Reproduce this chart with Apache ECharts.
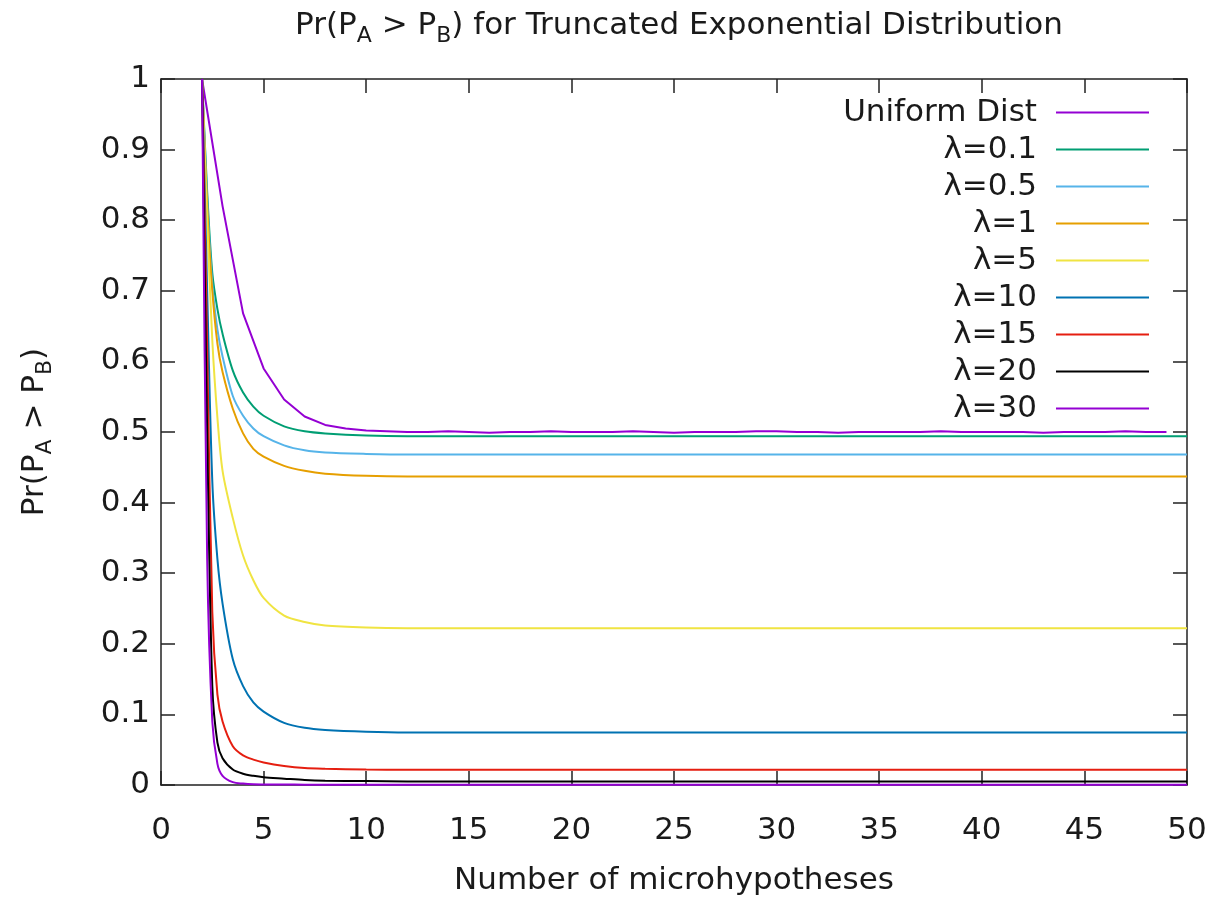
<!DOCTYPE html>
<html>
<head>
<meta charset="utf-8">
<script src="https://cdn.jsdelivr.net/npm/echarts@6/dist/echarts.min.js"></script>
<style>
  html, body { margin: 0; padding: 0; background: #fff; }
  #chart { width: 1220px; height: 901px; }
</style>
</head>
<body>
<div id="chart"></div>
<script>
// x positions (number of microhypotheses)
var nUniform = [2, 3, 4, 5, 6, 7, 8, 9, 10, 11, 12, 13, 14, 15, 16, 17, 18, 19, 20, 21, 22, 23, 24, 25,
    26, 27, 28, 29, 30, 31, 32, 33, 34, 35, 36, 37, 38, 39, 40, 41, 42, 43, 44, 45, 46, 47, 48, 49];
var nLambda = [2, 2.25, 2.5, 2.75, 3, 3.5, 4, 4.5, 5, 6, 7, 8, 10, 12, 15, 20, 30, 40, 50];

// Pr(PA > PB) values
var uniformDist = [1, 0.82, 0.668, 0.59, 0.546, 0.522, 0.51, 0.505, 0.502, 0.501, 0.5, 0.5, 0.501, 0.5, 0.499, 0.5,
    0.5, 0.501, 0.5, 0.5, 0.5, 0.501, 0.5, 0.499, 0.5, 0.5, 0.5, 0.501, 0.501, 0.5, 0.5, 0.499,
    0.5, 0.5, 0.5, 0.5, 0.501, 0.5, 0.5, 0.5, 0.5, 0.499, 0.5, 0.5, 0.5, 0.501, 0.5, 0.5];
var lambda01 = [1, 0.84, 0.725, 0.674, 0.639, 0.587, 0.556, 0.536, 0.523, 0.508, 0.501, 0.498, 0.495, 0.494, 0.494, 0.494, 0.494, 0.494, 0.494];
var lambda05 = [1, 0.83, 0.71, 0.645, 0.607, 0.551, 0.523, 0.505, 0.494, 0.481, 0.474, 0.471, 0.469, 0.468, 0.468, 0.468, 0.468, 0.468, 0.468];
var lambda1 = [1, 0.82, 0.70, 0.625, 0.585, 0.533, 0.498, 0.476, 0.465, 0.452, 0.445, 0.441, 0.438, 0.437, 0.437, 0.437, 0.437, 0.437, 0.437];
var lambda5 = [1, 0.80, 0.63, 0.52, 0.445, 0.378, 0.325, 0.29, 0.265, 0.24, 0.231, 0.226, 0.223, 0.222, 0.222, 0.222, 0.222, 0.222, 0.222];
var lambda10 = [1, 0.70, 0.43, 0.32, 0.257, 0.178, 0.14, 0.117, 0.104, 0.088, 0.081, 0.078, 0.0755, 0.0745, 0.0745, 0.0745, 0.0745, 0.0745, 0.0745];
var lambda15 = [1, 0.62, 0.245, 0.128, 0.09, 0.055, 0.042, 0.036, 0.032, 0.027, 0.024, 0.023, 0.022, 0.0215, 0.0215, 0.0215, 0.0215, 0.0215, 0.0215];
var lambda20 = [1, 0.50, 0.14, 0.06, 0.038, 0.022, 0.016, 0.013, 0.011, 0.009, 0.007, 0.006, 0.0055, 0.005, 0.005, 0.005, 0.005, 0.005, 0.005];
var lambda30 = [1, 0.32, 0.09, 0.03, 0.013, 0.004, 0.002, 0.001, 0.0008, 0.0006, 0.0005, 0.0005, 0.0005, 0.0005, 0.0005, 0.0005, 0.0005, 0.0005, 0.0005];

var seriesNames = ['Uniform Dist', 'λ=0.1', 'λ=0.5', 'λ=1', 'λ=5', 'λ=10', 'λ=15', 'λ=20', 'λ=30'];
var seriesColors = ['#9400d3', '#009e73', '#56b4e9', '#e69f00', '#f0e442', '#0072b2', '#e51e10', '#000000', '#9400d3'];

var fontName = 'DejaVu Sans';
var fontSize = 31;
var textColor = '#1a1a1a';

function pairs(xs, ys) {
    return xs.map(function(x, i) { return [x, ys[i]]; });
}

function renderChart() {
    var dom = document.getElementById('chart');
    var myChart = echarts.init(dom, null, { renderer: 'canvas' });

    var ySets = [uniformDist, lambda01, lambda05, lambda1, lambda5, lambda10, lambda15, lambda20, lambda30];
    var series = ySets.map(function(ys, i) {
        return {
            name: seriesNames[i],
            type: 'line',
            data: i === 0 ? pairs(nUniform, ys) : pairs(nLambda, ys),
            symbol: 'none',
            smooth: i === 0 ? false : 0.3,
            color: seriesColors[i],
            lineStyle: { width: 2, color: seriesColors[i] },
            animation: false,
            z: 2 + i
        };
    });

    var subStyle = { fontSize: 22, lineHeight: 22, verticalAlign: 'bottom', fontFamily: fontName, color: textColor };

    function axisCommon(extra) {
        return Object.assign({
            axisLine: { show: true, onZero: false, lineStyle: { color: '#222', width: 1.5 } },
            axisTick: { show: true, inside: true, length: 14, lineStyle: { color: '#222', width: 1.5 } },
            splitLine: { show: false }
        }, extra);
    }

    var option = {
        backgroundColor: '#ffffff',
        title: {
            text: 'Pr(P{sub|A} > P{sub|B}) for Truncated Exponential Distribution',
            left: 674,
            top: 0,
            textAlign: 'center',
            textStyle: {
                fontSize: fontSize,
                fontWeight: 'normal',
                fontFamily: fontName,
                color: textColor,
                lineHeight: 42,
                rich: { sub: subStyle }
            }
        },
        legend: {
            orient: 'vertical',
            right: 66,
            top: 92,
            align: 'right',
            icon: 'rect',
            itemWidth: 93,
            itemHeight: 2,
            itemGap: 6,
            data: seriesNames,
            textStyle: {
                fontSize: fontSize,
                fontFamily: fontName,
                color: textColor,
                width: 220,
                align: 'right',
                lineHeight: 30,
                padding: [0, 14, 0, 0]
            }
        },
        grid: { left: 161, right: 33, top: 79, bottom: 116, outerBoundsMode: 'none', containLabel: false },
        xAxis: [
            axisCommon({
                type: 'value',
                min: 0, max: 50, interval: 5,
                name: 'Number of microhypotheses',
                nameLocation: 'middle',
                nameGap: 80,
                nameTextStyle: { fontSize: fontSize, fontFamily: fontName, color: textColor },
                axisLabel: { fontSize: fontSize, fontFamily: fontName, color: textColor, margin: 30 }
            }),
            axisCommon({
                type: 'value', position: 'top',
                min: 0, max: 50, interval: 5,
                axisLabel: { show: false }
            })
        ],
        yAxis: [
            axisCommon({
                type: 'value',
                min: 0, max: 1, interval: 0.1,
                name: 'Pr(P{sub|A} > P{sub|B})',
                nameLocation: 'middle',
                nameRotate: 90,
                nameGap: 105,
                nameTextStyle: {
                    fontSize: fontSize, fontFamily: fontName, color: textColor, lineHeight: 42,
                    rich: { sub: subStyle }
                },
                axisLabel: {
                    fontSize: fontSize, fontFamily: fontName, color: textColor, margin: 11,
                    formatter: function(v) { return String(Math.round(v * 10) / 10); }
                }
            }),
            axisCommon({
                type: 'value', position: 'right',
                min: 0, max: 1, interval: 0.1,
                axisLabel: { show: false }
            })
        ],
        series: series
    };

    if (option && typeof option === 'object') {
        myChart.setOption(option);
    }
}
renderChart();
</script>
</body>
</html>
